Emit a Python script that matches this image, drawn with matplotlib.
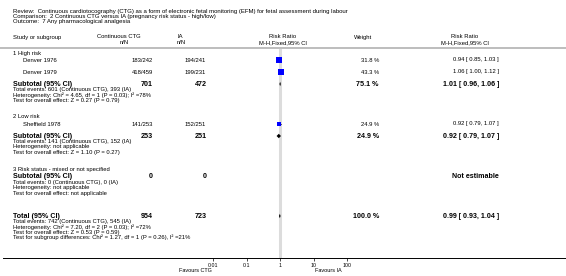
import numpy as np
import matplotlib.pyplot as plt

plt.rcParams['font.family'] = ['Liberation Sans', 'DejaVu Sans']

review = "Review:  Continuous cardiotocography (CTG) as a form of electronic fetal monitoring (EFM) for fetal assessment during labour"
comparison = "Comparison:  2 Continuous CTG versus IA (pregnancy risk status - high/low)"
outcome = "Outcome:  7 Any pharmacological analgesia"

groups = ["1 High risk", "2 Low risk", "3 Risk status - mixed or not specified"]
studies = ["Denver 1976", "Denver 1979", "Sheffield 1978"]
ctg_n = ["183/242", "418/459", "141/253"]
ia_n = ["194/241", "199/231", "152/251"]
weights = [31.8, 43.3, 24.9]
rr = [0.94, 1.06, 0.92]
rr_lo = [0.85, 1.00, 0.79]
rr_hi = [1.03, 1.12, 1.07]

sub_ctg = [701, 253, 0]
sub_ia = [472, 251, 0]
sub_weight = [75.1, 24.9, None]
sub_rr = [1.01, 0.92, None]
sub_lo = [0.96, 0.79, None]
sub_hi = [1.06, 1.07, None]
sub_notes = [
    ["Total events: 601 (Continuous CTG), 393 (IA)",
     "Heterogeneity: Chi\u00b2 = 4.65, df = 1 (P = 0.03); I\u00b2 =78%",
     "Test for overall effect: Z = 0.27 (P = 0.79)"],
    ["Total events: 141 (Continuous CTG), 152 (IA)",
     "Heterogeneity: not applicable",
     "Test for overall effect: Z = 1.10 (P = 0.27)"],
    ["Total events: 0 (Continuous CTG), 0 (IA)",
     "Heterogeneity: not applicable",
     "Test for overall effect: not applicable"],
]

total_ctg, total_ia = 954, 723
total_weight = 100.0
total_rr, total_lo, total_hi = 0.99, 0.93, 1.04
total_notes = [
    "Total events: 742 (Continuous CTG), 545 (IA)",
    "Heterogeneity: Chi\u00b2 = 7.20, df = 2 (P = 0.03); I\u00b2 =72%",
    "Test for overall effect: Z = 0.53 (P = 0.59)",
    "Test for subgroup differences: Chi\u00b2 = 1.27, df = 1 (P = 0.26), I\u00b2 =21%",
]
ticks = [0.01, 0.1, 1, 10, 100]
tick_labels = ["0.01", "0.1", "1", "10", "100"]

# layout (pixels from top)
W, H = 566, 276
study_y = [60, 72, 124]
group_y = [54, 117, 170]
sub_y = [84, 136, 177]
total_y = 216
step = 5.4
x_one, decade = 280, 33.5

fig = plt.figure(figsize=(W / 100, H / 100), dpi=100)
ax = fig.add_axes([0, 0, 1, 1])
ax.set_xlim(0, W)
ax.set_ylim(H, 0)
ax.axis('off')

fs_small = 4.2
fs_bold = 5.1

def txt(x, y, s, ha='left', bold=False, size=None):
    ax.text(x, y, s, ha=ha, va='center', fontsize=size or (fs_bold if bold else fs_small),
            fontweight='bold' if bold else 'normal', color='black')

for y, s in zip([11, 16.5, 22], [review, comparison, outcome]):
    txt(13, y, s, size=4.35)

# header
txt(13, 37, "Study or subgroup")
txt(97, 37, "Continuous CTG")
txt(120, 42.5, "n/N")
txt(177, 37, "IA")
txt(177, 42.5, "n/N")
txt(283, 37, "Risk Ratio", ha='center')
txt(283, 42.5, "M-H,Fixed,95% CI", ha='center')
txt(363, 37, "Weight", ha='center')
txt(465, 37, "Risk Ratio", ha='center')
txt(465, 42.5, "M-H,Fixed,95% CI", ha='center')
ax.plot([0, W], [48, 48], color='#bdbdbd', lw=1.4, solid_capstyle='butt')

for g, gy in enumerate(group_y):
    txt(13, gy, groups[g])

for i, y in enumerate(study_y):
    txt(23, y, studies[i])
    txt(153, y, ctg_n[i], ha='right')
    txt(206, y, ia_n[i], ha='right')
    txt(379, y, "%.1f %%" % weights[i], ha='right')
    txt(499, y, "%.2f [ %.2f, %.2f ]" % (rr[i], rr_lo[i], rr_hi[i]), ha='right')

for g, y in enumerate(sub_y):
    txt(13, y, "Subtotal (95% CI)", bold=True)
    txt(153, y, str(sub_ctg[g]), ha='right', bold=True)
    txt(207, y, str(sub_ia[g]), ha='right', bold=True)
    if sub_rr[g] is not None:
        txt(379, y, "%.1f %%" % sub_weight[g], ha='right', bold=True)
        txt(499, y, "%.2f [ %.2f, %.2f ]" % (sub_rr[g], sub_lo[g], sub_hi[g]), ha='right', bold=True)
    else:
        txt(499, y, "Not estimable", ha='right', bold=True)
    for k, note in enumerate(sub_notes[g]):
        txt(13, y + step * (k + 1), note)

txt(13, total_y, "Total (95% CI)", bold=True)
txt(153, total_y, str(total_ctg), ha='right', bold=True)
txt(207, total_y, str(total_ia), ha='right', bold=True)
txt(379, total_y, "%.1f %%" % total_weight, ha='right', bold=True)
txt(499, total_y, "%.2f [ %.2f, %.2f ]" % (total_rr, total_lo, total_hi), ha='right', bold=True)
for k, note in enumerate(total_notes):
    txt(13, total_y + step * (k + 1), note)

# forest panel
ax_y0, ax_y1 = 49, 258
x0, x1 = 195, 365
fx = fig.add_axes([x0 / W, (H - ax_y1) / H, (x1 - x0) / W, (ax_y1 - ax_y0) / H])
fx.set_xscale('log')
fx.set_xlim(10 ** ((x0 - x_one) / decade), 10 ** ((x1 - x_one) / decade))
fx.set_ylim(ax_y1, ax_y0)
fx.patch.set_alpha(0)
for sp in fx.spines.values():
    sp.set_visible(False)
fx.set_yticks([])
fx.set_xticks(ticks)
fx.set_xticklabels(tick_labels, fontsize=3.8)
fx.minorticks_off()
fx.tick_params(axis='x', length=2, width=0.5, pad=1.5)
fx.axvline(1, color='#dcdcdc', lw=2.2, zorder=0)

for i, y in enumerate(study_y):
    fx.plot([rr_lo[i], rr_hi[i]], [y, y], color='black', lw=0.5)
    fx.scatter([rr[i]], [y], marker='s', s=weights[i] * 0.42, color='#0000ff', zorder=3, linewidths=0)

def diamond(c, lo, hi, y, h=2.2):
    fx.fill([lo, c, hi, c], [y, y - h, y, y + h], color='black', lw=0)

for g, y in enumerate(sub_y):
    if sub_rr[g] is not None:
        diamond(sub_rr[g], sub_lo[g], sub_hi[g], y)
diamond(total_rr, total_lo, total_hi, total_y)

ax.plot([3, W], [ax_y1, ax_y1], color='black', lw=0.7)
txt(212, 271, "Favours CTG", ha='right', size=4.0)
txt(315, 271, "Favours IA", size=4.0)

fig.savefig('out.png', dpi=100)
